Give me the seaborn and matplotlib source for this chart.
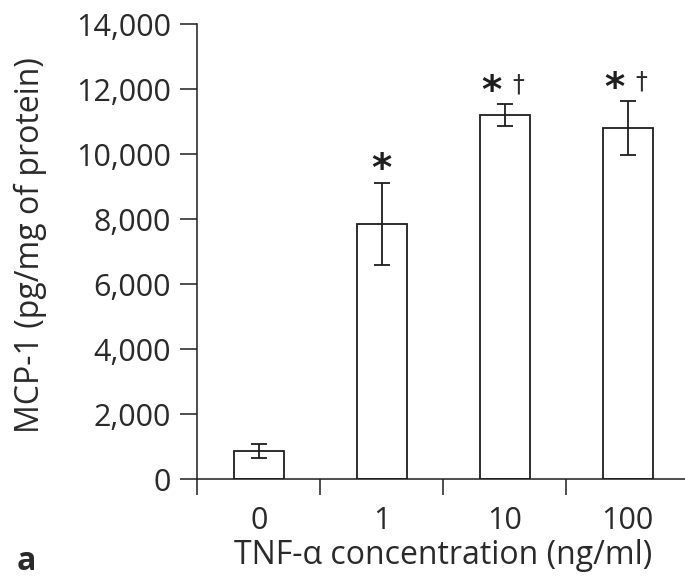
import matplotlib
matplotlib.use("Agg")
import matplotlib.pyplot as plt
from matplotlib.ticker import FuncFormatter, FixedLocator
import seaborn as sns
import pandas as pd

# TNF-alpha dose and MCP-1 secretion (mean and error)
concentrations = ["0", "1", "10", "100"]
mcp1_mean = [880, 7850, 11200, 10800]
mcp1_err = [215, 1270, 340, 830]
# significance marks: * vs control, dagger vs 1 ng/ml
star_marks = ["", "*", "*", "*"]
dagger_marks = ["", "", "\u2020", "\u2020"]
y_ticks = [0, 2000, 4000, 6000, 8000, 10000, 12000, 14000]

sns.set_theme(style="ticks")
plt.rcParams["font.family"] = ["Open Sans", "DejaVu Sans"]

ink = "#1e1e1e"
txt = "#2a2a2a"

df = pd.DataFrame({"conc": concentrations, "mcp1": mcp1_mean})

fig = plt.figure(figsize=(6.85, 5.84), dpi=100)
ax = fig.add_axes([197.3 / 685, 1 - 479.3 / 584, 492 / 685, 455.3 / 584])

sns.barplot(data=df, x="conc", y="mcp1", order=concentrations,
            color="white", edgecolor=ink, linewidth=1.3, width=0.41,
            errorbar=None, ax=ax)
for p in ax.patches:
    p.set_facecolor("white")

xpos = range(len(concentrations))
ax.errorbar(list(xpos), mcp1_mean, yerr=mcp1_err, fmt="none",
            ecolor=ink, elinewidth=1.3, capsize=5.6, capthick=1.3, zorder=3)

for i, (m, e, s, d) in enumerate(zip(mcp1_mean, mcp1_err, star_marks, dagger_marks)):
    top = m + e
    if s:
        dx = -10 if d else 0
        ax.annotate(s, xy=(i, top), xytext=(dx, 1), textcoords="offset points",
                    ha="center", va="baseline", fontsize=28, color=ink,
                    family="DejaVu Sans", fontweight="bold")
    if d:
        ax.annotate(d, xy=(i, top), xytext=(9.5, 9), textcoords="offset points",
                    ha="center", va="baseline", fontsize=17, color=txt,
                    family="DejaVu Sans")

ax.set_xlim(-0.5, 3.5)
ax.set_ylim(0, 14000)
ax.set_yticks(y_ticks)
ax.yaxis.set_major_formatter(FuncFormatter(lambda v, _: f"{int(v):,}"))

# category boundaries carry the x tick marks
ax.xaxis.set_minor_locator(FixedLocator([-0.5, 0.5, 1.5, 2.5]))
ax.tick_params(axis="x", which="major", length=0, pad=19, labelsize=22, labelcolor=txt)
ax.tick_params(axis="x", which="minor", length=11.5, width=1.1, color=ink, direction="out")
ax.tick_params(axis="y", which="major", length=12, width=1.1, color=ink, direction="out",
               pad=7, labelsize=22, labelcolor=txt)

sns.despine(ax=ax)
for side in ("left", "bottom"):
    ax.spines[side].set_linewidth(1.1)
    ax.spines[side].set_color(ink)

ax.set_xlabel("TNF-\u03b1 concentration (ng/ml)", fontsize=23, color=txt)
ax.set_ylabel("MCP-1 (pg/mg of protein)", fontsize=23, color=txt)
ax.xaxis.set_label_coords(0.5, -0.132)
ax.yaxis.set_label_coords(-0.305, 0.515)

fig.text(17 / 685, (584 - 570) / 584, "a", fontsize=23, fontweight="bold",
         color=txt, va="baseline", ha="left")

fig.savefig("out.png", dpi=100, facecolor="white")
